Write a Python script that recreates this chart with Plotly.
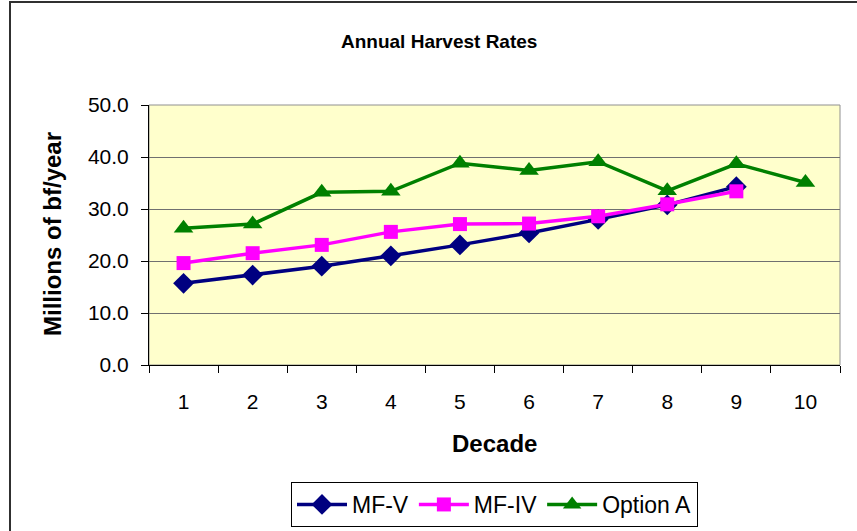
import plotly.graph_objects as go

decades = ["1", "2", "3", "4", "5", "6", "7", "8", "9", "10"]
mf_v = [15.7, 17.3, 19.0, 21.0, 23.1, 25.4, 28.0, 30.8, 34.3]
mf_iv = [19.6, 21.5, 23.1, 25.6, 27.1, 27.2, 28.6, 30.9, 33.4]
option_a = [26.3, 27.1, 33.2, 33.4, 38.8, 37.4, 39.1, 33.5, 38.7, 35.1]
y_ticks = [0, 10, 20, 30, 40, 50]

FONT = "Liberation Sans, Arial, sans-serif"

fig = go.Figure()
fig.add_trace(go.Scatter(
    x=decades[:len(mf_v)], y=mf_v, name="MF-V", mode="lines+markers",
    line=dict(color="#000080", width=3.5),
    marker=dict(symbol="diamond", size=16, color="#000080"),
))
fig.add_trace(go.Scatter(
    x=decades[:len(mf_iv)], y=mf_iv, name="MF-IV", mode="lines+markers",
    line=dict(color="#FF00FF", width=3.5),
    marker=dict(symbol="square", size=14, color="#FF00FF"),
))
fig.add_trace(go.Scatter(
    x=decades[:len(option_a)], y=option_a, name="Option A", mode="lines+markers",
    line=dict(color="#008000", width=3.5),
    marker=dict(symbol="triangle-up", size=17, color="#008000"),
))

W, H = 857, 531
L, R, T, B = 149, 17, 105, 166
pw, ph = W - L - R, H - T - B

def px_x(x):
    return (x - L) / pw

def px_y(y):
    return (H - B - y) / ph

fig.update_layout(
    width=W, height=H,
    margin=dict(l=L, r=R, t=T, b=B, autoexpand=False),
    paper_bgcolor="white",
    plot_bgcolor="#FFFFCC",
    font=dict(family=FONT, color="black", size=20),
    showlegend=True,
    legend=dict(
        orientation="h", x=0.5, xanchor="center", y=px_y(482), yanchor="top",
        bordercolor="black", borderwidth=1, bgcolor="white",
        font=dict(size=23, family=FONT), itemwidth=50,
        tracegroupgap=0,
    ),
    xaxis=dict(
        type="category", categoryorder="array", categoryarray=decades,
        range=[-0.5, 9.5],
        showline=True, linecolor="black", linewidth=1,
        ticks="outside", tickson="boundaries", ticklen=7, tickcolor="black",
        showgrid=False, zeroline=False,
        tickfont=dict(size=21), ticklabelstandoff=18,
    ),
    yaxis=dict(
        range=[0, 50], tickvals=y_ticks, tickformat=".1f",
        showline=True, linecolor="black", linewidth=1,
        ticks="outside", ticklen=7, tickcolor="black",
        showgrid=True, gridcolor="#707070", gridwidth=1, zeroline=False,
        tickfont=dict(size=21), ticklabelstandoff=8,
    ),
    shapes=[
        dict(type="rect", xref="paper", yref="paper", x0=0, x1=1, y0=0, y1=1,
             line=dict(color="#909090", width=1), layer="below"),
        dict(type="rect", xref="paper", yref="paper",
             x0=px_x(10), x1=px_x(880), y0=px_y(2), y1=px_y(560),
             line=dict(color="#303030", width=2), fillcolor="rgba(0,0,0,0)"),
    ],
    annotations=[
        dict(text="<b>Annual Harvest Rates</b>", xref="paper", yref="paper",
             x=px_x(439), y=px_y(41), xanchor="center", yanchor="middle",
             showarrow=False, font=dict(size=19, family=FONT)),
        dict(text="<b>Millions of bf/year</b>", xref="paper", yref="paper",
             x=px_x(52), y=px_y(234), xanchor="center", yanchor="middle",
             textangle=-90, showarrow=False, font=dict(size=24, family=FONT)),
        dict(text="<b>Decade</b>", xref="paper", yref="paper",
             x=px_x(494), y=px_y(443), xanchor="center", yanchor="middle",
             showarrow=False, font=dict(size=24, family=FONT)),
    ],
)

fig.write_html("out.html", config={"displayModeBar": False},
               post_script="document.body.style.margin='0';")
